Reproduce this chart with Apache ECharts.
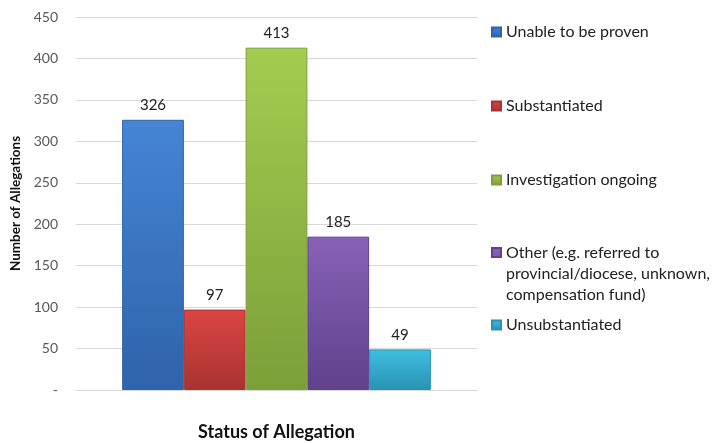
<!DOCTYPE html>
<html>
<head>
<meta charset="utf-8">
<script src="https://cdn.jsdelivr.net/npm/echarts@6/dist/echarts.min.js"></script>
<style>
  html, body { margin: 0; padding: 0; background: #fff; }
  #chart { width: 724px; height: 443px; }
</style>
</head>
<body>
<div id="chart"></div>
<script>
// allegations by status

const statuses = [
	'Unable to be proven',
	'Substantiated',
	'Investigation ongoing',
	'Other (e.g. referred to\nprovincial/diocese, unknown,\ncompensation fund)',
	'Unsubstantiated'
];
const counts = [326, 97, 413, 185, 49];
const yTicks = [0, 50, 100, 150, 200, 250, 300, 350, 400, 450];

const topColors = ['#4585d4', '#dc4543', '#a4cc50', '#8862b8', '#3fbfe0'];
const bottomColors = ['#2f63ab', '#a83331', '#7c9f39', '#5f418c', '#2a92b3'];
const legendTops = [16, 90, 164, 237, 309];

const chart = echarts.init(document.getElementById('chart'));
const font = 'Lato, "Liberation Sans", sans-serif';

const grad = i => new echarts.graphic.LinearGradient(0, 0, 0, 1, [
	{ offset: 0, color: topColors[i] },
	{ offset: 1, color: bottomColors[i] }
]);

const series = statuses.map((name, i) => ({
	name: name,
	type: 'bar',
	data: [counts[i]],
	barGap: '0%',
	barCategoryGap: '23%',
	itemStyle: {
		color: grad(i),
		borderColor: bottomColors[i],
		borderWidth: 1
	},
	label: {
		show: true,
		position: 'top',
		distance: 7,
		fontFamily: font,
		fontSize: 15,
		color: '#222'
	}
}));

// the three-line item keeps its marker on the first line
const legends = statuses.map((name, i) => ({
	data: [name],
	orient: 'vertical',
	left: 486,
	top: legendTops[i],
	icon: i === 3 ? 'path://M0,0L9,0L9,9L0,9ZM0,51' : 'rect',
	itemWidth: 9,
	itemHeight: i === 3 ? 51 : 9,
	itemGap: 0,
	textStyle: {
		fontFamily: font,
		fontSize: 16,
		color: '#222',
		lineHeight: i === 3 ? 21 : 22
	}
}));

const option = {
	animation: false,
	color: topColors,
	legend: legends,
	grid: { left: 76, right: 247, top: 17, bottom: 53, outerBoundsMode: 'none' },
	xAxis: {
		type: 'category',
		data: [''],
		name: 'Status of Allegation',
		nameLocation: 'middle',
		nameGap: 33,
		nameTextStyle: { fontFamily: font, fontSize: 18, fontWeight: 'bold', color: '#111' },
		axisLine: { lineStyle: { color: '#d9d9d9' } },
		axisTick: { show: false },
		axisLabel: { show: false }
	},
	yAxis: {
		type: 'value',
		min: 0,
		max: 450,
		interval: 50,
		name: 'Number of Allegations',
		nameLocation: 'middle',
		nameGap: 53,
		nameTextStyle: { fontFamily: font, fontSize: 13.5, fontWeight: 'bold', color: '#111' },
		axisLine: { show: false },
		axisTick: { show: false },
		splitLine: { lineStyle: { color: '#d9d9d9' } },
		axisLabel: {
			margin: 18,
			fontFamily: font,
			fontSize: 14,
			color: '#595959',
			formatter: v => (yTicks.indexOf(v) === 0 ? '-' : String(v))
		}
	},
	series: series
};

chart.setOption(option);
</script>
</body>
</html>
